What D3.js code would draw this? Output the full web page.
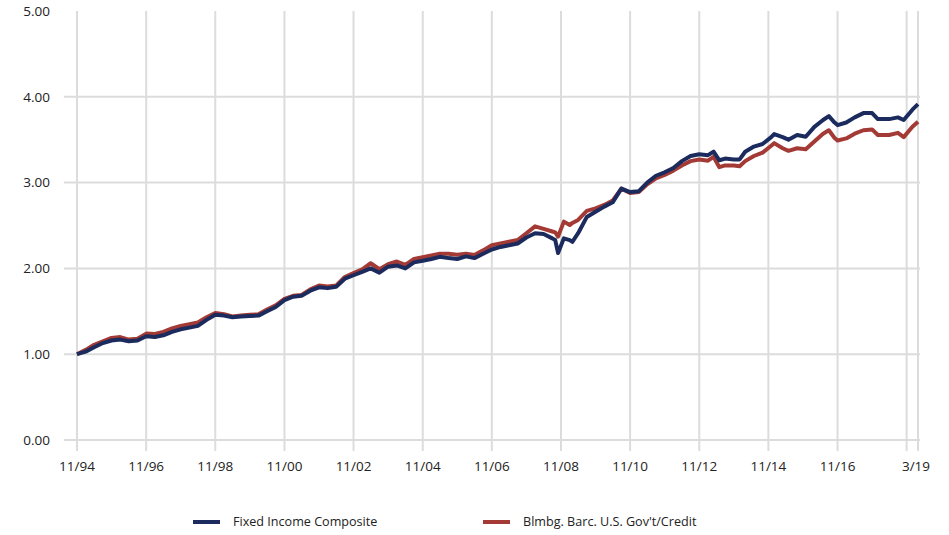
<!DOCTYPE html>
<html>
<head>
<meta charset="utf-8">
<script src="https://cdn.jsdelivr.net/npm/d3@7"></script>
<style>
  html, body { margin: 0; padding: 0; background: #fff; }
  svg { display: block; }
</style>
</head>
<body>
<svg id="chart" width="949" height="535"></svg>
<script>
// Months elapsed since Nov 1994 for each observation
const monthOffsets = [0,3,6,9,12,15,18,21,24,27,30,33,36,39,42,45,48,51,54,57,60,63,66,69,72,75,78,81,84,87,90,93,96,99,102,105,108,111,114,117,120,123,126,129,132,135,138,141,144,147,150,153,156,159,162,165,166,167,169,171,172,174,177,180,183,186,189,192,195,198,201,204,207,210,213,216,219,221,223,225,228,230,232,235,238,241,242,245,247,250,253,256,259,261,263,264,267,270,273,276,278,282,285,287,290,292];
const fixedIncomeComposite = [1.00,1.03,1.08,1.13,1.16,1.17,1.15,1.16,1.21,1.20,1.22,1.26,1.29,1.31,1.33,1.40,1.46,1.45,1.43,1.44,1.445,1.45,1.50,1.55,1.63,1.67,1.68,1.74,1.78,1.77,1.785,1.88,1.92,1.96,2.00,1.95,2.02,2.035,2.00,2.07,2.09,2.11,2.135,2.12,2.11,2.14,2.12,2.17,2.22,2.25,2.27,2.29,2.36,2.41,2.40,2.35,2.33,2.18,2.35,2.33,2.31,2.41,2.60,2.66,2.72,2.77,2.93,2.89,2.90,3.00,3.08,3.12,3.17,3.25,3.31,3.33,3.32,3.36,3.26,3.28,3.27,3.27,3.36,3.42,3.45,3.53,3.565,3.53,3.50,3.555,3.535,3.65,3.73,3.775,3.70,3.67,3.70,3.76,3.81,3.81,3.74,3.74,3.76,3.73,3.85,3.915];
const govtCreditIndex = [1.00,1.05,1.11,1.15,1.19,1.20,1.17,1.18,1.24,1.235,1.26,1.30,1.33,1.35,1.37,1.43,1.48,1.465,1.44,1.45,1.46,1.465,1.52,1.57,1.645,1.68,1.69,1.755,1.80,1.79,1.80,1.90,1.945,1.99,2.06,1.99,2.05,2.08,2.04,2.11,2.13,2.15,2.17,2.17,2.16,2.17,2.155,2.21,2.27,2.29,2.31,2.33,2.41,2.49,2.46,2.43,2.42,2.37,2.545,2.505,2.53,2.565,2.67,2.70,2.74,2.79,2.93,2.88,2.89,2.98,3.05,3.09,3.14,3.20,3.25,3.27,3.255,3.30,3.18,3.20,3.20,3.19,3.25,3.31,3.35,3.43,3.46,3.40,3.37,3.40,3.39,3.48,3.57,3.61,3.52,3.49,3.515,3.57,3.61,3.62,3.555,3.555,3.58,3.53,3.65,3.71];
const seriesNames = ["Fixed Income Composite", "Blmbg. Barc. U.S. Gov't/Credit"];
const seriesColors = ["#1c2b5e", "#a33a35"];
const yTicks = [0, 1, 2, 3, 4, 5];
const xTickOffsets = [0, 24, 48, 72, 96, 120, 144, 168, 192, 216, 240, 264, 288, 292];
const xTickLabels = ["11/94","11/96","11/98","11/00","11/02","11/04","11/06","11/08","11/10","11/12","11/14","11/16","","3/19"];

const startDate = new Date(1994, 10, 1);
const toDate = m => d3.timeMonth.offset(startDate, m);

const svg = d3.select("#chart");
const plotLeft = 77, plotRight = 918, plotTop = 11, plotBottom = 440;

const x = d3.scaleTime().domain([toDate(0), toDate(292)]).range([plotLeft, plotRight]);
const y = d3.scaleLinear().domain([0, 5]).range([plotBottom, plotTop]);

const font = "'Open Sans', sans-serif";
const grid = "#dcdcdc";
const textColor = "#222";

// horizontal gridlines
svg.append("g").selectAll("line").data(yTicks.filter(d => d > 0 && d < 5)).join("line")
  .attr("x1", plotLeft - 13).attr("x2", plotRight + 2)
  .attr("y1", d => y(d)).attr("y2", d => y(d))
  .attr("stroke", grid).attr("stroke-width", 2);

// vertical gridlines
svg.append("g").selectAll("line").data(xTickOffsets).join("line")
  .attr("x1", d => x(toDate(d))).attr("x2", d => x(toDate(d)))
  .attr("y1", plotTop).attr("y2", plotBottom + 11)
  .attr("stroke", grid).attr("stroke-width", 2);

// axis base line and left axis
svg.append("line").attr("x1", plotLeft - 13).attr("x2", plotRight + 2)
  .attr("y1", y(0)).attr("y2", y(0)).attr("stroke", grid).attr("stroke-width", 2);
svg.append("line").attr("x1", plotLeft).attr("x2", plotLeft)
  .attr("y1", plotTop).attr("y2", plotBottom).attr("stroke", grid).attr("stroke-width", 2);

// y labels
svg.append("g").selectAll("text").data(yTicks).join("text")
  .attr("x", 50).attr("y", d => y(d)).attr("dy", "0.35em")
  .attr("text-anchor", "end")
  .attr("font-family", font).attr("font-size", 13.5).attr("fill", textColor)
  .text(d => d.toFixed(2));

// x labels
svg.append("g").selectAll("text").data(xTickOffsets.map((d, i) => ({d, l: xTickLabels[i]})).filter(o => o.l)).join("text")
  .attr("x", o => x(toDate(o.d)) - (o.l === "3/19" ? 2 : 0)).attr("y", 471)
  .attr("text-anchor", "middle")
  .attr("font-family", font).attr("font-size", 13.5).attr("fill", textColor)
  .text(o => o.l);

// lines
const seriesData = [fixedIncomeComposite, govtCreditIndex];
const line = d3.line().x((d, i) => x(toDate(monthOffsets[i]))).y(d => y(d)).curve(d3.curveLinear);
[1, 0].forEach(k => {
  svg.append("path").datum(seriesData[k])
    .attr("fill", "none").attr("stroke", seriesColors[k])
    .attr("stroke-width", 4).attr("stroke-linejoin", "round")
    .attr("d", line);
});

// legend
const legendX = [193, 483];
seriesNames.forEach((name, k) => {
  const g = svg.append("g").attr("transform", `translate(${legendX[k]},522)`);
  g.append("line").attr("x1", 0).attr("x2", 27).attr("y1", 0).attr("y2", 0)
    .attr("stroke", seriesColors[k]).attr("stroke-width", 4);
  g.append("text").attr("x", 40).attr("y", 0).attr("dy", "0.35em")
    .attr("font-family", font).attr("font-size", 12.6).attr("fill", textColor)
    .text(name);
});
</script>
</body>
</html>
